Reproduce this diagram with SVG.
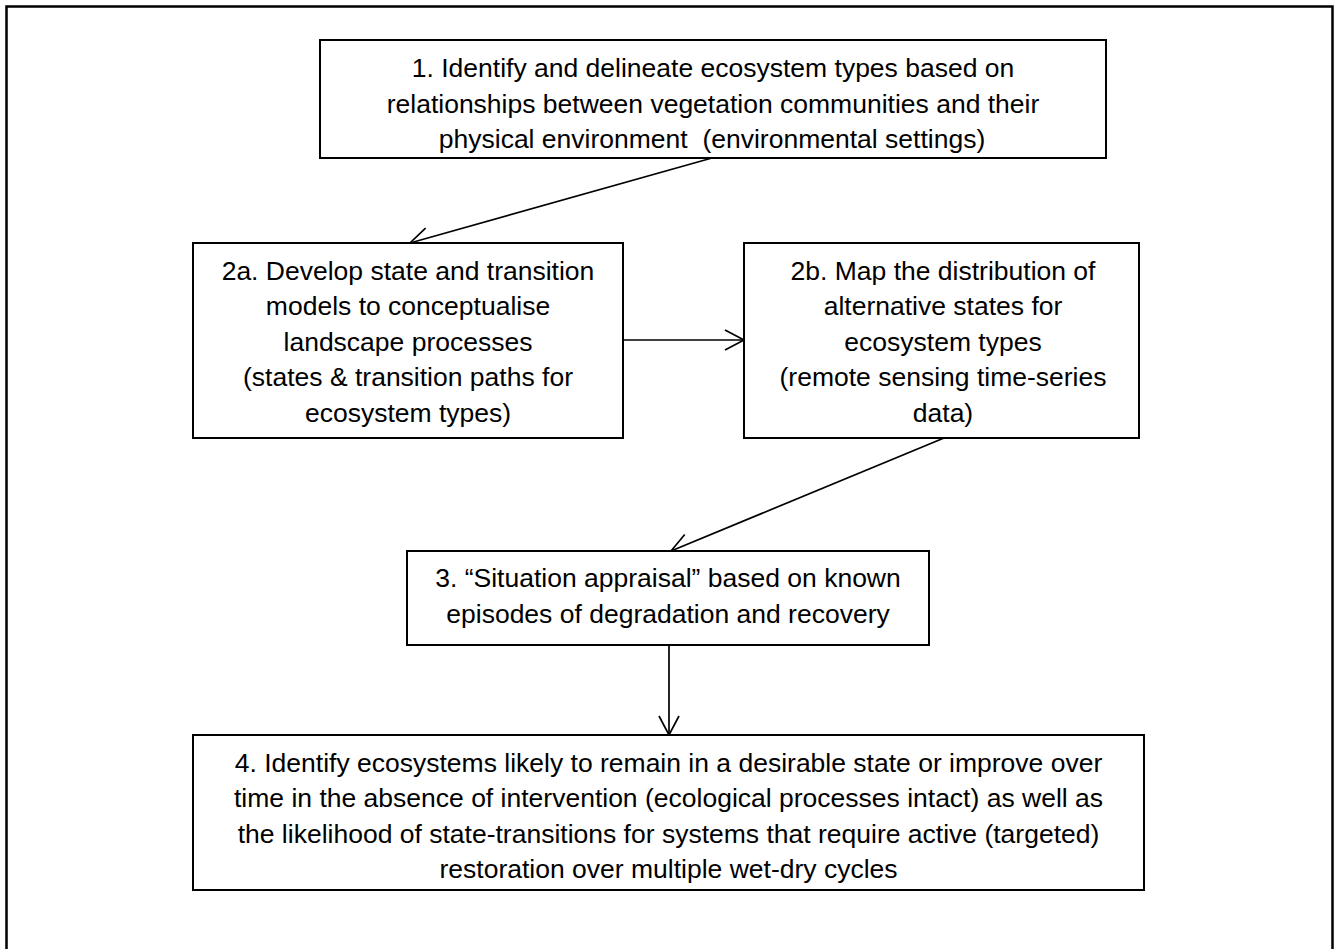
<svg xmlns="http://www.w3.org/2000/svg" width="1336" height="949" viewBox="0 0 1336 949">
<style>
.box{fill:#fff;stroke:#000;stroke-width:2}
.t{font-family:"Liberation Sans",Arial,sans-serif;font-size:26.5px;fill:#000;text-anchor:middle}
.c{fill:none;stroke:#000;stroke-width:1.7}
</style>
<defs>
<marker id="ah" markerUnits="userSpaceOnUse" markerWidth="24" markerHeight="24" viewBox="-22 -12 24 24" refX="0" refY="0" orient="auto">
<path d="M-19,-10 L0,0 L-19,10" fill="none" stroke="#000" stroke-width="1.7"/>
</marker>
</defs>
<rect width="1336" height="949" fill="#fff"/>
<path d="M6.5,960 V6.5 H1332.5 V960" fill="none" stroke="#000" stroke-width="2.5"/>
<g id="connectors">
<line class="c" x1="712" y1="158" x2="410" y2="243" marker-end="url(#ah)"/>
<line class="c" x1="623" y1="340" x2="744" y2="340" marker-end="url(#ah)"/>
<line class="c" x1="944" y1="438" x2="671" y2="551" marker-end="url(#ah)"/>
<line class="c" x1="669" y1="645" x2="669" y2="735" marker-end="url(#ah)"/>
</g>
<g id="n1">
<rect class="box" x="320" y="40" width="786" height="118"/>
<text class="t" x="713" y="77">1. Identify and delineate ecosystem types based on</text>
<text class="t" x="713" y="112.5">relationships between vegetation communities and their</text>
<text class="t" x="712" y="148" xml:space="preserve">physical environment  (environmental settings)</text>
</g>
<g id="n2a">
<rect class="box" x="193" y="243" width="430" height="195"/>
<text class="t" x="408" y="279.5">2a. Develop state and transition</text>
<text class="t" x="408" y="315">models to conceptualise</text>
<text class="t" x="408" y="350.5">landscape processes</text>
<text class="t" x="408" y="386">(states &amp; transition paths for</text>
<text class="t" x="408" y="421.5">ecosystem types)</text>
</g>
<g id="n2b">
<rect class="box" x="744" y="243" width="395" height="195"/>
<text class="t" x="943" y="279.5">2b. Map the distribution of</text>
<text class="t" x="943" y="315">alternative states for</text>
<text class="t" x="943" y="350.5">ecosystem types</text>
<text class="t" x="943" y="386">(remote sensing time-series</text>
<text class="t" x="943" y="421.5">data)</text>
</g>
<g id="n3">
<rect class="box" x="407" y="551" width="522" height="94"/>
<text class="t" x="668" y="587">3. “Situation appraisal” based on known</text>
<text class="t" x="668" y="622.5">episodes of degradation and recovery</text>
</g>
<g id="n4">
<rect class="box" x="193" y="735" width="951" height="155"/>
<text class="t" x="668.5" y="771.5">4. Identify ecosystems likely to remain in a desirable state or improve over</text>
<text class="t" x="668.5" y="807">time in the absence of intervention (ecological processes intact) as well as</text>
<text class="t" x="668.5" y="842.5">the likelihood of state-transitions for systems that require active (targeted)</text>
<text class="t" x="668.5" y="878">restoration over multiple wet-dry cycles</text>
</g>
</svg>
